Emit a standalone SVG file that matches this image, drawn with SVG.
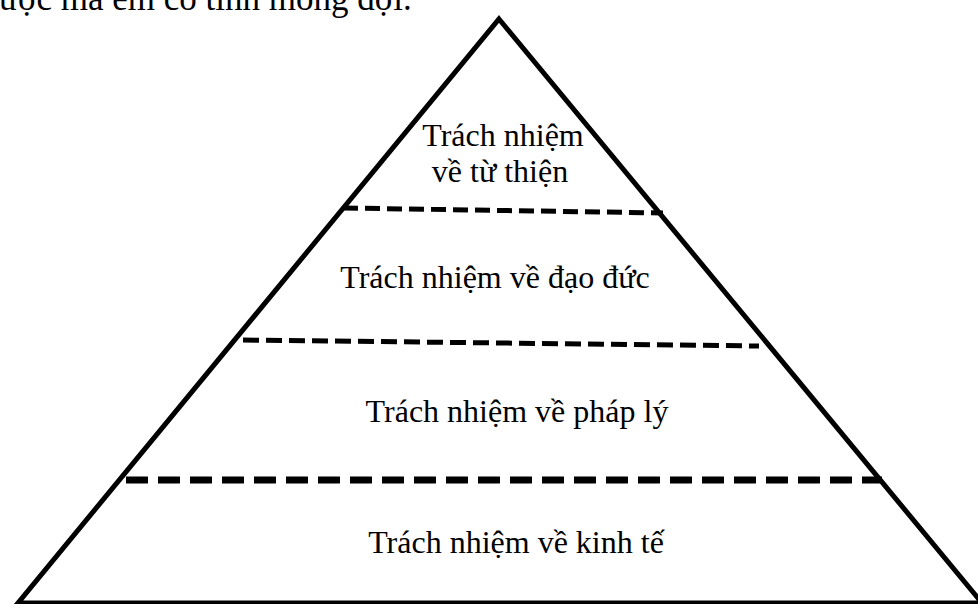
<svg xmlns="http://www.w3.org/2000/svg" width="978" height="604" viewBox="0 0 978 604">
<style>
.lbl{font-family:"Liberation Serif","Times New Roman",serif;font-size:32px;fill:#000;text-anchor:middle}
.body{font-family:"Liberation Serif","Times New Roman",serif;font-size:35px;fill:#000}
.dash{stroke:#000;fill:none}
</style>
<rect width="978" height="604" fill="#fff"/>
<text class="body" x="-1" y="10">ược mà em có tính mong đợi.</text>
<g id="pyramid">
<polygon points="499,19 982,603 18,603" fill="none" stroke="#000" stroke-width="5"/>
</g>
<g id="connectors">
<line class="dash" x1="343" y1="208" x2="663" y2="213" stroke-width="5" stroke-dasharray="15 7"/>
<line class="dash" x1="243" y1="340" x2="759" y2="346" stroke-width="5" stroke-dasharray="16 7"/>
<line class="dash" x1="126" y1="480" x2="882" y2="480" stroke-width="7" stroke-dasharray="22 10"/>
</g>
<g id="tu-thien">
<text class="lbl" x="503" y="146">Trách nhiệm</text>
<text class="lbl" x="500" y="182">về từ thiện</text>
</g>
<g id="dao-duc"><text class="lbl" x="495" y="288">Trách nhiệm về đạo đức</text></g>
<g id="phap-ly"><text class="lbl" x="517" y="422">Trách nhiệm về pháp lý</text></g>
<g id="kinh-te"><text class="lbl" x="516" y="553">Trách nhiệm về kinh tế</text></g>
</svg>
